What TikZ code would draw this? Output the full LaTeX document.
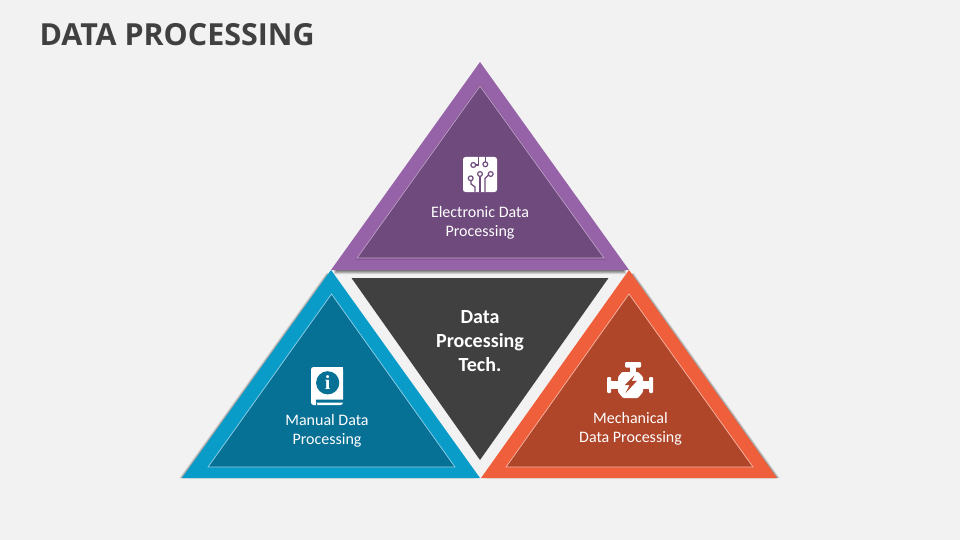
\documentclass[tikz,border=0pt]{standalone}
\usepackage{fontspec}
\setmainfont{Carlito}
\newfontfamily\titlefont{Open Sans}
\newfontfamily\serifi{Liberation Serif}
\definecolor{bgc}{HTML}{F2F2F2}
\definecolor{darkc}{HTML}{404040}
\definecolor{purpO}{HTML}{9763A8}
\definecolor{purpI}{HTML}{6F4A7C}
\definecolor{blueO}{HTML}{0A9CC9}
\definecolor{blueI}{HTML}{067095}
\definecolor{oranO}{HTML}{F05F3B}
\definecolor{oranI}{HTML}{AF4529}
\tikzset{
  x=1pt,y=-1pt,
  lbl/.style={text=white,align=center,font=\fontsize{16}{19}\selectfont,inner sep=0pt},
  centrelbl/.style={text=white,align=center,font=\fontsize{20}{24.3}\selectfont\bfseries,inner sep=0pt},
  titlelbl/.style={text=darkc,anchor=west,font=\titlefont\fontsize{30.4}{34}\selectfont\bfseries,inner sep=0pt},
  inner tri/.style={line width=0.7pt,line join=miter},
  trace/.style={line width=1.3pt,line join=round,line cap=round},
  pad/.style={line width=1.2pt,fill=white},
  shade tri/.style={fill=black,opacity=0.13,draw=none}
}
\newcommand{\softshadow}[3]{%
  \foreach \k in {1,2,3,4,5}{
    \fill[shade tri,shift={({#1*\k/5},{#2*\k/5})}] #3;
  }
}
\begin{document}
\begin{tikzpicture}
\useasboundingbox (0,0) rectangle (960,540);
\fill[bgc] (0,0) rectangle (960,540);
\node[titlelbl] (title) at (39.3,35) {DATA PROCESSING};

% soft shadows
\softshadow{0}{4}{(480,64)--(334,270)--(626,270)--cycle}
\softshadow{-4.5}{0}{(331,273)--(184,478)--(478,478)--cycle}
\softshadow{4.5}{0}{(629,273)--(483,478)--(775,478)--cycle}

% top triangle
\fill[purpO] (480,62)--(331,270)--(629,270)--cycle;
\fill[black,opacity=.10] (480,84)--(355,260)--(606,260)--cycle;
\draw[inner tri,fill=purpI,draw=purpO!60!white] (480,86)--(357,258)--(604,258)--cycle;

% left triangle
\fill[blueO] (331,270)--(182,478)--(480,478)--cycle;
\draw[inner tri,fill=blueI,draw=blueO!45!white] (331.5,294)--(208,467)--(455,467)--cycle;

% right triangle
\fill[oranO] (629,270)--(481,478)--(777,478)--cycle;
\draw[inner tri,fill=oranI,draw=oranO!45!white] (629,294)--(506,467)--(753,467)--cycle;

% centre triangle
\fill[darkc] (351.5,278)--(608.5,278)--(480,460)--cycle;

% chip icon
\fill[white,rounded corners=2.5pt] (463,157) rectangle (497,192);
\begin{scope}[purpI]
  \draw[trace] (476,165)--(478.3,165)--(478.3,157);
  \draw[trace] (485.3,164)--(485.3,157);
  \draw[trace] (480,176)--(480,192);
  \draw[trace] (488.5,175)--(485,178.5)--(485,192);
  \draw[trace] (471,181)--(471,184)--(475,187)--(475,192);
  \draw[pad,draw=purpI] (473.3,165) circle (2.4);
  \draw[pad,draw=purpI] (485.3,164.3) circle (2.4);
  \draw[pad,draw=purpI] (480,174) circle (2.4);
  \draw[pad,draw=purpI] (490.7,174) circle (2.4);
  \draw[pad,draw=purpI] (470.7,178.3) circle (2.4);
\end{scope}

% book icon
\fill[white,rounded corners=2.5pt] (311,372) -- (311,367) -- (343,367) -- (343,405) -- (311,405) -- cycle;
\fill[white] (314,367) rectangle (343,372);
\fill[blueI] (316,399.6) -- (344,399.6) -- (344,402.6) -- (316,402.6) arc (90:270:-1.5) -- cycle;
\fill[blueI] (327.7,382.8) circle (11.6);
\node[text=white,inner sep=0pt,font=\serifi\fontsize{20}{20}\selectfont\bfseries] (infoi) at (327.7,382.8) {i};

% engine icon
\fill[white,rounded corners=1pt] (625,362) rectangle (641,367.5);
\fill[white] (630,367) rectangle (636,373);
\fill[white,rounded corners=1pt] (622,372)--(638,372)--(643,377)--(643,392)--(638,398)--(623,398)--(618,392)--(618,377)--cycle;
\fill[white] (610,381) rectangle (619,389);
\fill[white] (642,381) rectangle (650,389);
\fill[white,rounded corners=1pt] (607,377) rectangle (611,393);
\fill[white,rounded corners=1pt] (649,377) rectangle (653,393);
\fill[oranI] (634.5,375.5)--(624.8,385)--(629.6,385)--(625.6,393)--(637,380.8)--(631.8,380.8)--cycle;

% labels
\node[lbl] (electronic) at (480,222.5) {Electronic Data\\Processing};
\node[lbl] (manual) at (327,430.5) {Manual Data\\Processing};
\node[lbl] (mechanical) at (630.5,428.5) {Mechanical\\Data Processing};
\node[centrelbl] (centre) at (480,341) {Data\\Processing\\Tech.};
\end{tikzpicture}
\end{document}
